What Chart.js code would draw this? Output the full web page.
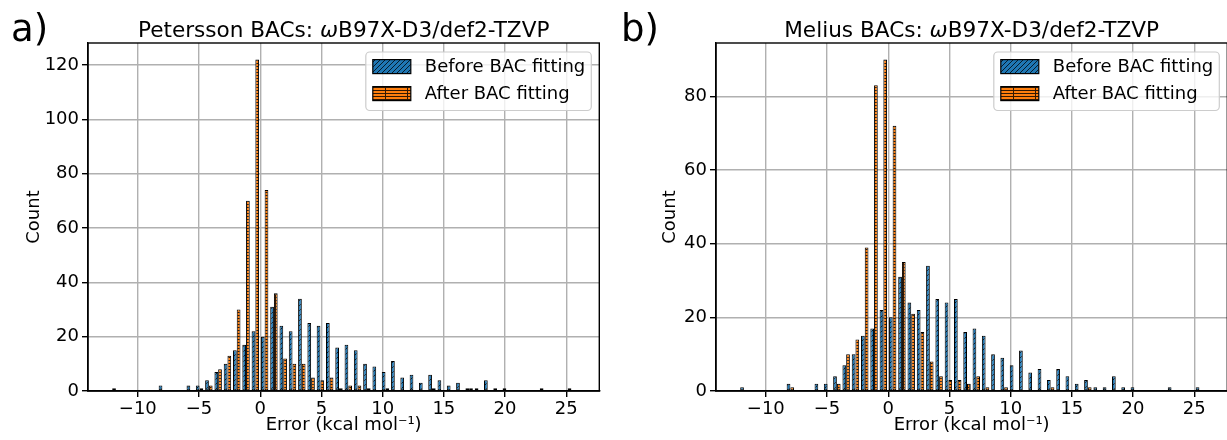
<!DOCTYPE html>
<html>
<head>
<meta charset="utf-8">
<script src="https://cdn.jsdelivr.net/npm/chart.js@4.4.0/dist/chart.umd.min.js"></script>
<style>
  html, body { margin: 0; padding: 0; background: #fff; }
  body { width: 1227px; height: 440px; position: relative; overflow: hidden; }
  canvas { position: absolute; top: 0; }
  .panel-label { position: absolute; top: 10px; font-family: 'DejaVu Sans'; font-size: 37px; line-height: 1; color: #000; }
</style>
</head>
<body>
<canvas id="chart-a" width="613" height="440" style="left:0px"></canvas>
<canvas id="chart-b" width="613" height="440" style="left:628px"></canvas>
<div class="panel-label" style="left:11px">a)</div>
<div class="panel-label" style="left:621px">b)</div>
<script>
// histogram bins (50 equal bins over the combined error range)
const binStart = -12.17;
const binWidth = 0.7594;

// counts per bin
const beforeCounts = [1, 0, 0, 0, 0, 2, 0, 0, 2, 2,
                      4, 7, 10, 15, 17, 22, 20, 31, 24, 22,
                      34, 25, 24, 25, 16, 17, 15, 10, 9, 7,
                      11, 5, 6, 3, 6, 4, 2, 3, 1, 1,
                      4, 1, 1, 0, 0, 0, 1, 0, 0, 1];
const afterPetersson = [0, 0, 0, 0, 0, 0, 0, 0, 0, 1,
                        2, 8, 13, 30, 70, 122, 74, 36, 12, 10,
                        10, 5, 4, 5, 1, 2, 2, 1, 0, 1,
                        0, 0, 0, 0, 1, 0, 0, 0, 1, 0,
                        0, 0, 0, 0, 0, 0, 0, 0, 0, 0];
const afterMelius = [0, 0, 0, 0, 0, 1, 0, 0, 0, 0,
                     2, 10, 14, 39, 83, 90, 72, 35, 21, 16,
                     8, 4, 3, 3, 2, 4, 1, 0, 1, 0,
                     0, 0, 0, 1, 0, 0, 0, 1, 0, 0,
                     0, 0, 0, 0, 0, 0, 0, 0, 0, 0];

const seriesLabels = ['Before BAC fitting', 'After BAC fitting'];
const xTicks = [-10, -5, 0, 5, 10, 15, 20, 25];
const yTicksA = [0, 20, 40, 60, 80, 100, 120];
const yTicksB = [0, 20, 40, 60, 80];
const titleA = ['Petersson BACs: ', '\u03c9', 'B97X-D3/def2-TZVP'];
const titleB = ['Melius BACs: ', '\u03c9', 'B97X-D3/def2-TZVP'];

const binCenters = beforeCounts.map((_, i) => binStart + (i + 0.5) * binWidth);

const FONT = "'DejaVu Sans'";

// hatch patterns
function diagonalHatch(color, size) {
    const c = document.createElement('canvas');
    c.width = size; c.height = size;
    const g = c.getContext('2d');
    g.fillStyle = color;
    g.fillRect(0, 0, size, size);
    g.strokeStyle = 'rgba(0,0,0,0.85)';
    g.lineWidth = 0.9;
    g.beginPath();
    [-size, 0, size].forEach(k => {
        g.moveTo(k, size);
        g.lineTo(k + size, 0);
    });
    g.stroke();
    return g.createPattern(c, 'repeat');
}

function gridHatch(color, w, h) {
    const c = document.createElement('canvas');
    c.width = w; c.height = h;
    const g = c.getContext('2d');
    g.fillStyle = color;
    g.fillRect(0, 0, w, h);
    g.fillStyle = 'rgba(0,0,0,0.8)';
    g.fillRect(0, 0, w, 1);
    g.fillRect(Math.floor(w / 2), 1, 1, h - 1);
    return g.createPattern(c, 'repeat');
}

const bluePattern = diagonalHatch('#1f77b4', 5);
const orangePattern = gridHatch('#ff7f0e', 22, 3);

// frame, title and legend drawn on the chart
const panelDecor = {
    id: 'panelDecor',
    afterDraw(chart, args, opts) {
        const { ctx, chartArea: a } = chart;
        ctx.save();
        // frame
        ctx.strokeStyle = '#000';
        ctx.lineWidth = 1.4;
        ctx.strokeRect(a.left, a.top, a.right - a.left, a.bottom - a.top);

        // title with italic omega
        const parts = opts.title;
        const fonts = ['21.6px ' + FONT, 'italic 21.6px ' + FONT, '21.6px ' + FONT];
        const widths = parts.map((p, i) => { ctx.font = fonts[i]; return ctx.measureText(p).width; });
        let x = (a.left + a.right) / 2 - widths.reduce((s, v) => s + v, 0) / 2;
        ctx.fillStyle = '#000';
        ctx.textBaseline = 'alphabetic';
        ctx.textAlign = 'left';
        parts.forEach((p, i) => {
            ctx.font = fonts[i];
            ctx.fillText(p, x, 36.5);
            x += widths[i];
        });

        // legend
        ctx.font = '18px ' + FONT;
        const items = chart.data.datasets;
        const textW = Math.max(...items.map(d => ctx.measureText(d.label).width));
        const w = 7 + 38 + 14 + textW + 6;
        const right = a.right - 8;
        const left = right - w;
        const top = a.top + 9;
        const h = 58.5;
        const r = 4;
        ctx.beginPath();
        ctx.moveTo(left + r, top);
        ctx.lineTo(right - r, top);
        ctx.arcTo(right, top, right, top + r, r);
        ctx.lineTo(right, top + h - r);
        ctx.arcTo(right, top + h, right - r, top + h, r);
        ctx.lineTo(left + r, top + h);
        ctx.arcTo(left, top + h, left, top + h - r, r);
        ctx.lineTo(left, top + r);
        ctx.arcTo(left, top, left + r, top, r);
        ctx.closePath();
        ctx.fillStyle = 'rgba(255,255,255,0.8)';
        ctx.fill();
        ctx.strokeStyle = '#cccccc';
        ctx.lineWidth = 1.2;
        ctx.stroke();

        items.forEach((d, i) => {
            const cy = top + 14.6 + i * 27;
            ctx.fillStyle = d.backgroundColor;
            ctx.fillRect(left + 7, cy - 7, 38, 14);
            ctx.strokeStyle = '#000';
            ctx.lineWidth = 1.2;
            ctx.strokeRect(left + 7, cy - 7, 38, 14);
            ctx.fillStyle = '#000';
            ctx.textBaseline = 'middle';
            ctx.fillText(d.label, left + 59, cy + 1);
        });
        ctx.restore();
    }
};

function minusSign(v) {
    return String(v).replace('-', '\u2212');
}

function makeChart(id, title, afterCounts, yMax, yTicks, yTitlePad) {
    const ctx = document.getElementById(id);
    return new Chart(ctx, {
        type: 'bar',
        data: {
            datasets: [{
                label: seriesLabels[0],
                data: binCenters.map((x, i) => ({ x: x, y: beforeCounts[i] })),
                backgroundColor: bluePattern,
                borderColor: '#000',
                borderWidth: 1,
                borderSkipped: false
            }, {
                label: seriesLabels[1],
                data: binCenters.map((x, i) => ({ x: x, y: afterCounts[i] })),
                backgroundColor: orangePattern,
                borderColor: '#000',
                borderWidth: 1,
                borderSkipped: false
            }]
        },
        options: {
            responsive: false,
            animation: false,
            devicePixelRatio: 1,
            categoryPercentage: 0.8,
            barPercentage: 1.0,
            layout: { padding: { top: 43, right: 13.7, left: 0, bottom: 0 } },
            plugins: {
                legend: { display: false },
                tooltip: { enabled: false },
                panelDecor: { title: title }
            },
            scales: {
                x: {
                    type: 'linear',
                    min: -14.07,
                    max: 27.7,
                    offset: false,
                    afterBuildTicks: scale => { scale.ticks = xTicks.map(v => ({ value: v })); },
                    afterFit: scale => { scale.height = 49; },
                    grid: { offset: false, color: '#b0b0b0', lineWidth: 1.4, tickLength: 6, tickColor: '#000', tickWidth: 1.4 },
                    border: { display: true, color: '#000', width: 1.4 },
                    ticks: { color: '#000', font: { family: FONT, size: 18 }, padding: 2, maxRotation: 0, autoSkip: false, callback: v => minusSign(v) },
                    title: { display: true, text: 'Error (kcal mol\u207b\u00b9)', color: '#000', font: { family: FONT, size: 18 }, padding: { top: 0, bottom: 4 } }
                },
                y: {
                    min: 0,
                    max: yMax,
                    afterBuildTicks: scale => { scale.ticks = yTicks.map(v => ({ value: v })); },
                    afterFit: scale => { scale.width = 88; },
                    grid: { color: '#b0b0b0', lineWidth: 1.4, tickLength: 6, tickColor: '#000', tickWidth: 1.4 },
                    border: { display: true, color: '#000', width: 1.4 },
                    ticks: { color: '#000', font: { family: FONT, size: 18 }, padding: 3 },
                    title: { display: true, text: 'Count', color: '#000', font: { family: FONT, size: 18 }, padding: { top: yTitlePad, bottom: 0 } }
                }
            }
        },
        plugins: [panelDecor]
    });
}

makeChart('chart-a', titleA, afterPetersson, 128.1, yTicksA, 24);
makeChart('chart-b', titleB, afterMelius, 94.5, yTicksB, 32);
</script>
</body>
</html>
